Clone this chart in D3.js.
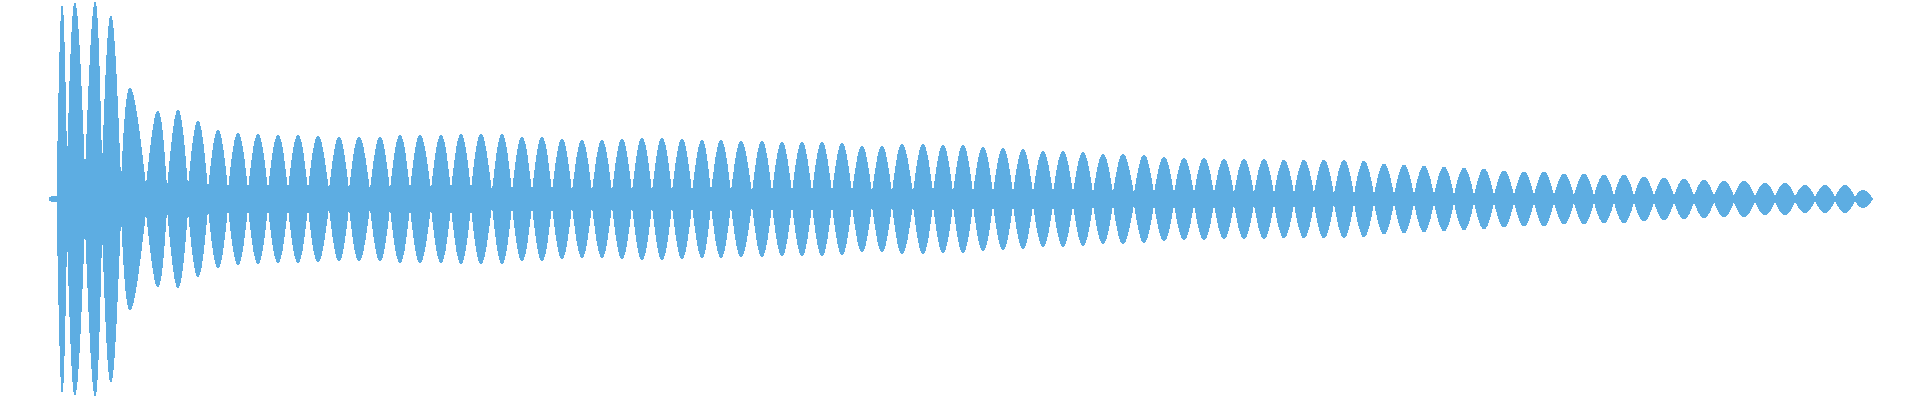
<!DOCTYPE html>
<html>
<head>
<meta charset="utf-8">
<script src="https://cdn.jsdelivr.net/npm/d3@7"></script>
<style>
  html, body { margin: 0; padding: 0; background: #ffffff; }
  svg { display: block; }
</style>
</head>
<body>
<svg id="chart" width="1920" height="400"></svg>
<script>
// Time of each beat peak (ms) and its normalized peak amplitude (0..1)
const peakTimes = [4, 13, 26, 46, 62, 81, 109, 129, 149, 169, 189, 209, 229, 249, 269, 290, 310, 331, 351, 371, 392, 412, 432, 453, 473, 493, 513, 533, 553, 573, 593, 613, 633, 653, 672, 692, 713, 733, 753, 773, 793, 813, 833, 853, 874, 894, 914, 934, 954, 974, 994, 1014, 1034, 1054, 1074, 1095, 1115, 1135, 1155, 1175, 1195, 1215, 1235, 1255, 1275, 1295, 1315, 1335, 1355, 1375, 1395, 1415, 1435, 1455, 1475, 1495, 1515, 1535, 1555, 1575, 1595, 1615, 1635, 1655, 1675, 1695, 1716, 1736, 1756, 1776, 1796, 1814];
const peakAmps = [0.012, 0.970, 0.985, 0.990, 0.920, 0.558, 0.442, 0.447, 0.392, 0.347, 0.332, 0.327, 0.322, 0.322, 0.317, 0.312, 0.312, 0.312, 0.322, 0.322, 0.322, 0.327, 0.327, 0.327, 0.312, 0.312, 0.302, 0.296, 0.296, 0.302, 0.307, 0.307, 0.302, 0.296, 0.296, 0.291, 0.291, 0.286, 0.286, 0.286, 0.281, 0.266, 0.266, 0.276, 0.276, 0.271, 0.271, 0.261, 0.256, 0.251, 0.241, 0.241, 0.236, 0.226, 0.226, 0.221, 0.211, 0.206, 0.206, 0.201, 0.201, 0.201, 0.196, 0.196, 0.196, 0.196, 0.191, 0.176, 0.171, 0.166, 0.161, 0.156, 0.151, 0.141, 0.136, 0.136, 0.126, 0.126, 0.121, 0.121, 0.111, 0.106, 0.101, 0.095, 0.090, 0.090, 0.080, 0.080, 0.070, 0.070, 0.070, 0.045];

// Time of each node (quiet point between beats, ms) and its residual amplitude
const nodeTimes = [0, 8, 18, 36, 53, 72, 97, 118, 139, 159, 179, 199, 219, 239, 259, 280, 300, 321, 341, 361, 382, 402, 422, 443, 463, 483, 503, 523, 543, 563, 583, 603, 623, 643, 662, 682, 703, 723, 743, 763, 783, 803, 823, 843, 864, 884, 904, 924, 944, 964, 984, 1004, 1024, 1044, 1064, 1085, 1105, 1125, 1145, 1165, 1185, 1205, 1225, 1245, 1265, 1285, 1305, 1325, 1345, 1365, 1385, 1405, 1425, 1445, 1465, 1485, 1505, 1525, 1545, 1565, 1585, 1605, 1625, 1645, 1665, 1685, 1706, 1726, 1746, 1766, 1786, 1806, 1823];
const nodeAmps = [0.005, 0.010, 0.085, 0.075, 0.085, 0.035, 0.050, 0.025, 0.035,
  0.025, 0.025, 0.025, 0.025, 0.025, 0.025, 0.025, 0.025, 0.025, 0.025, 0.025, 0.025, 0.025, 0.025,
  0.015, 0.015, 0.015, 0.015, 0.015, 0.015, 0.015, 0.015, 0.015, 0.015, 0.015, 0.015, 0.015, 0.015,
  0.015, 0.015, 0.015, 0.015, 0.015, 0.015, 0.015, 0.015, 0.015, 0.015, 0.015, 0.015, 0.015, 0.015,
  0.015, 0.015, 0.015, 0.015, 0.015, 0.015, 0.015, 0.015, 0.015, 0.015, 0.015, 0.015, 0.015, 0.015,
  0.010, 0.010, 0.010, 0.010, 0.010, 0.010, 0.010, 0.010, 0.010, 0.010, 0.010, 0.010,
  0.010, 0.010, 0.010, 0.010, 0.010, 0.010, 0.010, 0.010, 0.010, 0.010, 0.010, 0.010,
  0.008, 0.008, 0.008, 0.005];

const color = "#5dade2";

const svg = d3.select("#chart");
const x = d3.scaleLinear().domain([0, 1826]).range([49, 1875]);
const y = d3.scaleLinear().domain([-1, 1]).range([398, 0]);

const lobes = peakTimes.map((t, i) => [
  { t: nodeTimes[i], a: nodeAmps[i] },
  { t: t, a: peakAmps[i] },
  { t: nodeTimes[i + 1], a: nodeAmps[i + 1] }
]);

const area = d3.area()
  .x(d => x(d.t))
  .y0(d => y(-d.a))
  .y1(d => y(d.a))
  .curve(d3.curveNatural);

svg.append("g")
  .attr("shape-rendering", "crispEdges")
  .selectAll("path")
  .data(lobes)
  .join("path")
  .attr("d", area)
  .attr("fill", color)
  .attr("stroke", color)
  .attr("stroke-width", 1)
  .attr("stroke-linejoin", "round");
</script>
</body>
</html>
